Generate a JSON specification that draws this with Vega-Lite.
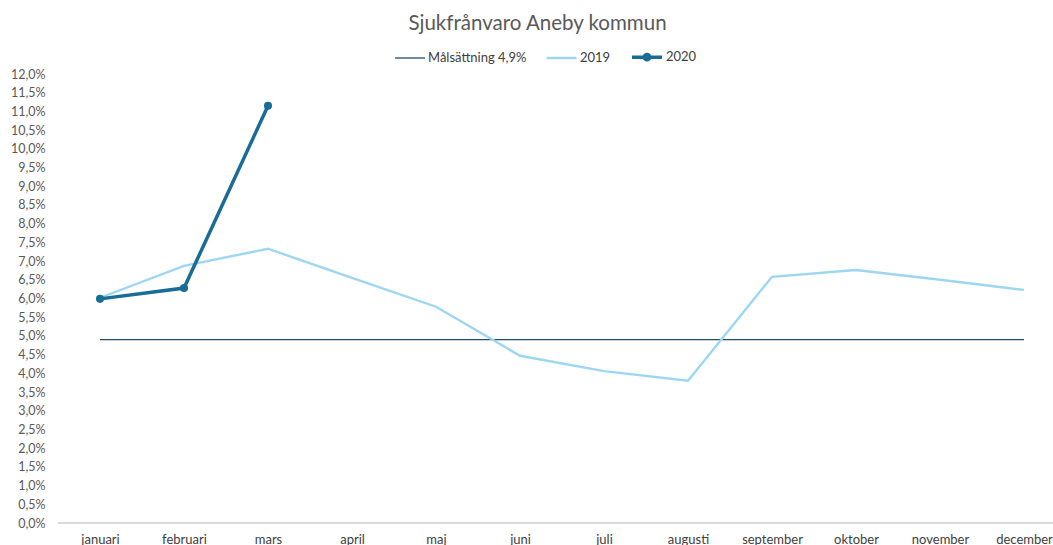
{
  "$schema": "https://vega.github.io/schema/vega-lite/v6.json",
  "autosize": "none",
  "width": 995,
  "height": 449,
  "padding": {"left": 58, "top": 74, "right": 0, "bottom": 22},
  "background": "white",
  "title": {"text": "Sjukfrånvaro Aneby kommun", "font": "Lato", "fontSize": 20.5, "fontWeight": "normal", "color": "#595959", "anchor": "middle", "dx": -18, "offset": 6},
  "config": {"view": {"stroke": null}, "font": "Lato"},
  "data": {"values": [
    {"month": "januari", "series": "Målsättning 4,9%", "value": 0.049},
    {"month": "februari", "series": "Målsättning 4,9%", "value": 0.049},
    {"month": "mars", "series": "Målsättning 4,9%", "value": 0.049},
    {"month": "april", "series": "Målsättning 4,9%", "value": 0.049},
    {"month": "maj", "series": "Målsättning 4,9%", "value": 0.049},
    {"month": "juni", "series": "Målsättning 4,9%", "value": 0.049},
    {"month": "juli", "series": "Målsättning 4,9%", "value": 0.049},
    {"month": "augusti", "series": "Målsättning 4,9%", "value": 0.049},
    {"month": "september", "series": "Målsättning 4,9%", "value": 0.049},
    {"month": "oktober", "series": "Målsättning 4,9%", "value": 0.049},
    {"month": "november", "series": "Målsättning 4,9%", "value": 0.049},
    {"month": "december", "series": "Målsättning 4,9%", "value": 0.049},
    {"month": "januari", "series": "2019", "value": 0.0602},
    {"month": "februari", "series": "2019", "value": 0.0687},
    {"month": "mars", "series": "2019", "value": 0.0733},
    {"month": "april", "series": "2019", "value": 0.0655},
    {"month": "maj", "series": "2019", "value": 0.0578},
    {"month": "juni", "series": "2019", "value": 0.0447},
    {"month": "juli", "series": "2019", "value": 0.0406},
    {"month": "augusti", "series": "2019", "value": 0.038},
    {"month": "september", "series": "2019", "value": 0.0658},
    {"month": "oktober", "series": "2019", "value": 0.0676},
    {"month": "november", "series": "2019", "value": 0.065},
    {"month": "december", "series": "2019", "value": 0.0623},
    {"month": "januari", "series": "2020", "value": 0.0599},
    {"month": "februari", "series": "2020", "value": 0.0628},
    {"month": "mars", "series": "2020", "value": 0.1115}
  ]},
  "encoding": {
    "x": {"field": "month", "type": "nominal", "sort": ["januari","februari","mars","april","maj","juni","juli","augusti","september","oktober","november","december"],
      "scale": {"type": "point", "range": [42, 966], "padding": 0},
      "axis": {"title": null, "domain": false, "ticks": false, "labelAngle": 0, "labelFont": "Lato", "labelFontSize": 13, "labelColor": "#404040", "labelPadding": 10}},
    "y": {"field": "value", "type": "quantitative",
      "scale": {"domain": [0, 0.12], "nice": false},
      "axis": {"title": null, "domain": false, "ticks": false, "grid": false, "values": [0,0.005,0.01,0.015,0.02,0.025,0.03,0.035,0.04,0.045,0.05,0.055,0.06,0.065,0.07,0.075,0.08,0.085,0.09,0.095,0.1,0.105,0.11,0.115,0.12],
        "labelExpr": "replace(format(datum.value, '.1%'), '.', ',')", "labelFont": "Lato", "labelFontSize": 12.5, "labelColor": "#595959", "labelPadding": 13}}
  },
  "layer": [
    {"mark": {"type": "rule", "color": "#d9d9d9", "strokeWidth": 1}, "encoding": {"y": {"datum": 0}, "x": {"value": 0}, "x2": {"value": 995}}},
    {"mark": {"type": "line"},
      "encoding": {
        "color": {"field": "series", "type": "nominal", "sort": ["Målsättning 4,9%", "2019", "2020"],
          "scale": {"domain": ["Målsättning 4,9%", "2019", "2020"], "range": ["#1f4e6b", "#9dd6f2", "#186c96"]},
          "legend": {"title": null, "orient": "none", "legendX": 336, "legendY": -34, "direction": "horizontal", "symbolType": "stroke", "symbolSize": 900, "symbolStrokeWidth": 3, "labelFont": "Lato", "labelFontSize": 13, "labelColor": "#404040", "columnPadding": 14, "labelOffset": 2,
            "encode": {"symbols": {"update": {
              "strokeWidth": [{"test": "datum.value === 'Målsättning 4,9%'", "value": 1.3}, {"value": 3.5}],
              "strokeCap": {"value": "butt"},
              "shape": [{"test": "datum.value === '2020'", "value": "M-1,0H1M-0.18,0A0.18,0.18 0 1,0 0.18,0A0.18,0.18 0 1,0 -0.18,0ZM0,-0.6L0,-0.6"}, {"value": "M-1,0H1M0,-0.18L0,-0.18M0,0.18L0,0.18"}],
              "fill": [{"test": "datum.value === '2020'", "value": "#186c96"}, {"value": "transparent"}]
            }}}}},
        "strokeWidth": {"field": "series", "type": "nominal", "scale": {"domain": ["Målsättning 4,9%", "2019", "2020"], "range": [1.3, 3.5, 3.5]}, "legend": null}
      }},
    {"transform": [{"filter": "datum.series === '2020'"}],
      "mark": {"type": "point", "filled": true, "size": 65, "opacity": 1, "color": "#186c96"}}
  ]
}
